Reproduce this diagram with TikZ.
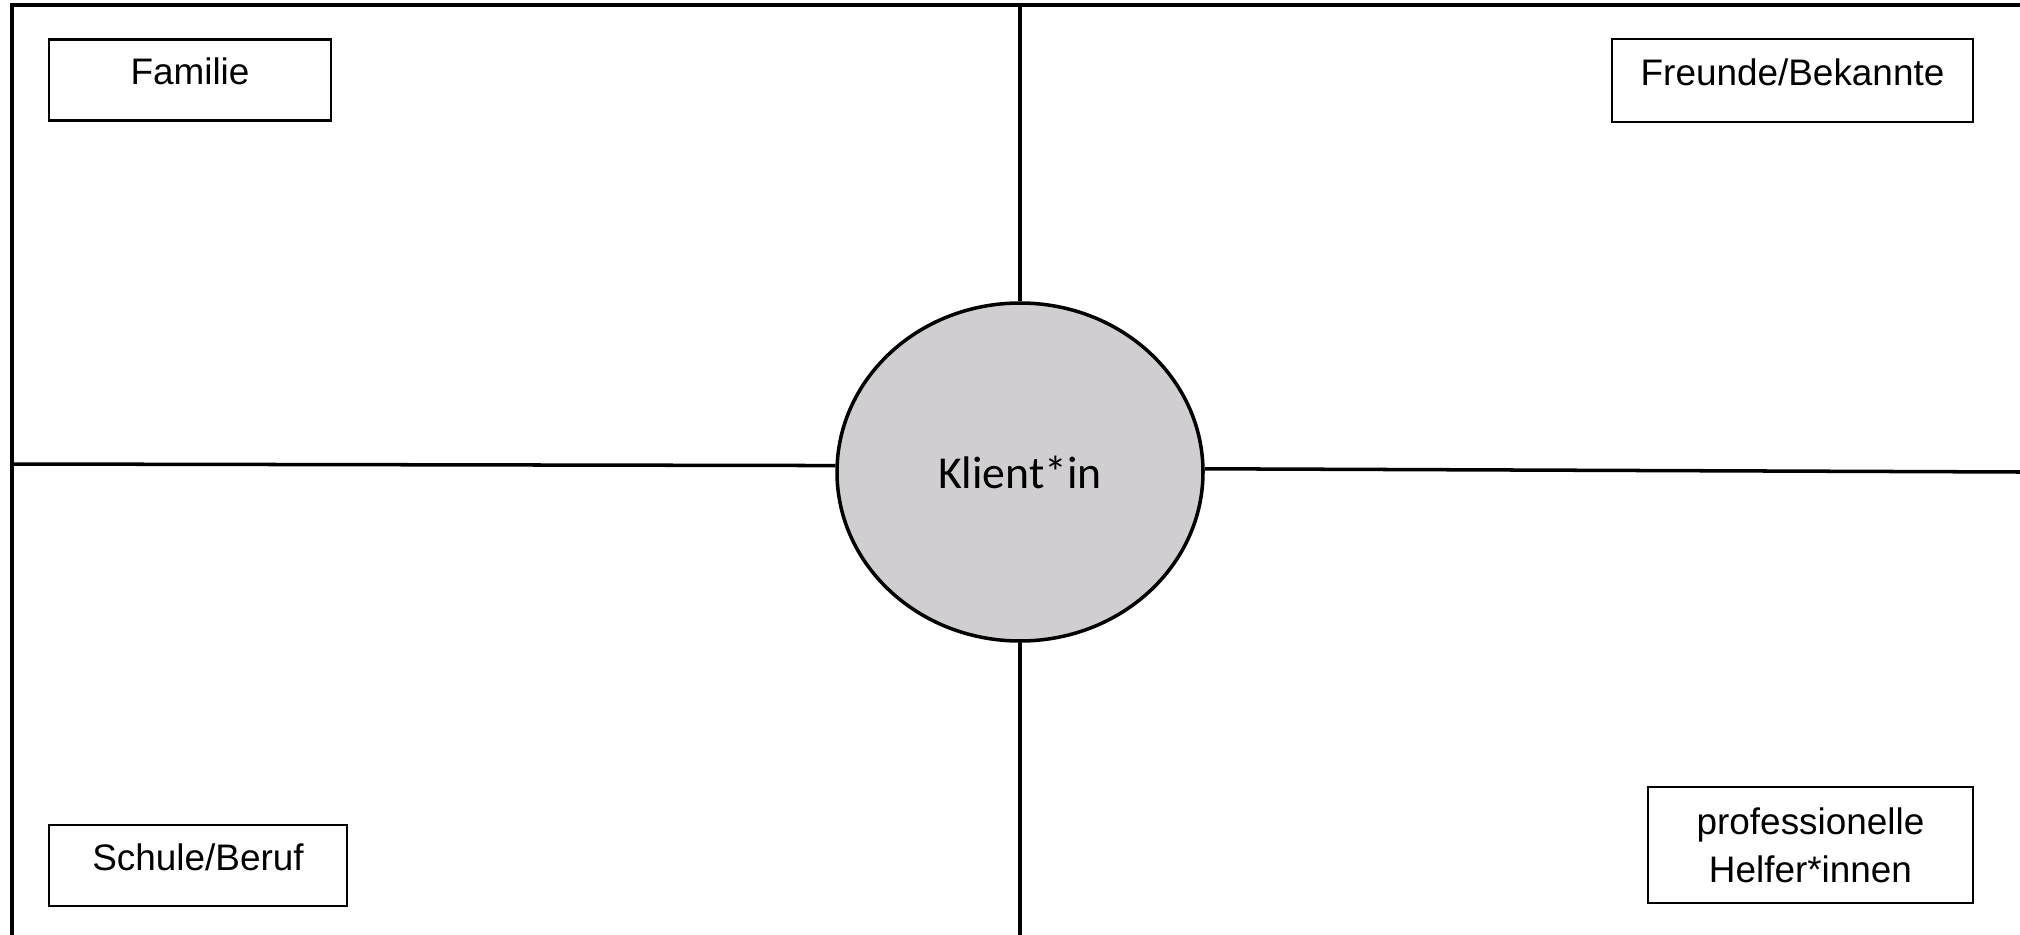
\documentclass[tikz,border=0pt]{standalone}
\usepackage{fontspec}
\setmainfont{Liberation Sans}
\newfontfamily\klientfont{Carlito}
\usepackage{xcolor}
\usepackage{tikz}
\usetikzlibrary{shapes.geometric,positioning,calc}

\definecolor{klientgray}{RGB}{208,206,208}

\begin{document}
\begin{tikzpicture}[
    frame/.style={line width=1.2pt},
    axis/.style={line width=1pt},
    field/.style={rectangle, draw, line width=0.7pt, inner sep=0pt, font=\fontsize{10.5}{13.6}\selectfont, align=center},
    oneline/.style={text height=0.27cm, text depth=0.18cm},
    klient/.style={ellipse, draw, line width=1pt, fill=klientgray, minimum width=3.66cm, minimum height=3.38cm, font=\klientfont\fontsize{13}{15}\selectfont}
]
    \useasboundingbox (0,0) rectangle (20.2,-9.35);

    % Frame (cut at right and bottom)
    \draw[frame] (0.12,-9.35) -- (0.12,-0.05) -- (20.2,-0.05);

    % Client
    \node[klient] (K) at (10.2,-4.72) {Klient*in};

    % Axes
    \coordinate (top) at (10.2,-0.05);
    \coordinate (bot) at (10.2,-9.35);
    \coordinate (lft) at (0.12,-4.64);
    \coordinate (rgt) at (20.2,-4.72);
    \draw[axis] (top) -- (K.north);
    \draw[axis] (K.south) -- (bot);
    \draw[axis] (lft) -- (K.178);
    \draw[axis] (K.1) -- (rgt);

    % Fields
    \node[field, oneline, minimum width=2.82cm, minimum height=0.81cm] (fam) at (1.90,-0.80) {Familie};
    \node[field, oneline, minimum width=3.61cm, minimum height=0.83cm] (freunde) at (17.925,-0.805) {Freunde/Bekannte};
    \node[field, oneline, minimum width=2.98cm, minimum height=0.81cm] (schule) at (1.98,-8.655) {Schule/Beruf};
    \node[field, minimum width=3.25cm, minimum height=1.16cm] (helfer) at (18.105,-8.45) {professionelle\\Helfer*innen};
\end{tikzpicture}
\end{document}
